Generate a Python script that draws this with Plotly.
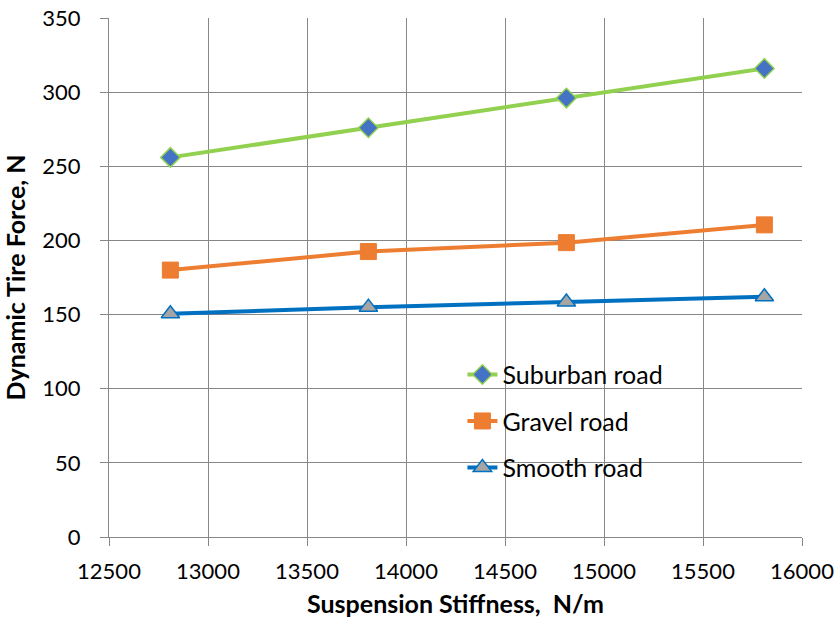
import plotly.graph_objects as go

# Suspension stiffness (N/m) and dynamic tire force (N) per road type
stiffness = [12810, 13810, 14810, 15810]
suburban = [256, 276, 296, 316]
gravel = [180, 192.5, 198.5, 210.5]
smooth = [150.5, 155, 158.5, 162]

x_ticks = list(range(12500, 16001, 500))
y_ticks = list(range(0, 351, 50))

FONT = "Lato, Open Sans, sans-serif"
GRID = "#878787"

fig = go.Figure()

series = [
    ("Suburban road", suburban, "#92D050", dict(symbol="diamond", size=15, color="#4472C4",
                                               line=dict(color="#92D050", width=1.5))),
    ("Gravel road", gravel, "#ED7D31", dict(symbol="square", size=16, color="#ED7D31",
                                           line=dict(color="#ED7D31", width=1))),
    ("Smooth road", smooth, "#0070C0", dict(symbol="triangle-up", size=16, color="#A5A5A5",
                                           line=dict(color="#0070C0", width=1.5))),
]

for i, (name, ys, col, mk) in enumerate(series):
    fig.add_trace(go.Scatter(
        x=stiffness, y=ys, name=name, mode="lines+markers",
        line=dict(color=col, width=4), marker=mk, legendgroup=f"g{i}",
    ))

fig.update_layout(
    width=839, height=625,
    margin=dict(l=109, r=37, t=18, b=88),
    paper_bgcolor="white", plot_bgcolor="white",
    font=dict(family=FONT, size=22, color="black"),
    showlegend=True,
    legend=dict(x=0.51, y=0.357, xanchor="left", yanchor="top",
                bgcolor="rgba(0,0,0,0)", tracegroupgap=11,
                font=dict(family=FONT, size=25, color="black")),
    xaxis=dict(
        range=[12500, 16000], tickvals=x_ticks, ticktext=[str(v) for v in x_ticks],
        showgrid=True, gridcolor=GRID, gridwidth=1,
        showline=True, linecolor=GRID, linewidth=1, mirror=False,
        ticks="outside", ticklen=8, tickcolor=GRID, tickwidth=1,
        ticklabelstandoff=7, zeroline=False, automargin=False,
        title=dict(text="<b>Suspension Stiffness,&nbsp; N/m</b>", standoff=12,
                   font=dict(family=FONT, size=25)),
        tickfont=dict(family=FONT, size=22),
    ),
    yaxis=dict(
        range=[0, 350], tickvals=y_ticks, ticktext=[str(v) for v in y_ticks],
        showgrid=True, gridcolor=GRID, gridwidth=1,
        showline=True, linecolor=GRID, linewidth=1,
        ticks="outside", ticklen=8, tickcolor=GRID, tickwidth=1,
        ticklabelstandoff=15, zeroline=False, automargin=False,
        title=dict(text="<b>Dynamic Tire Force, N</b>", standoff=12,
                   font=dict(family=FONT, size=25)),
        tickfont=dict(family=FONT, size=22),
    ),
)

fig.write_html("out.html")
